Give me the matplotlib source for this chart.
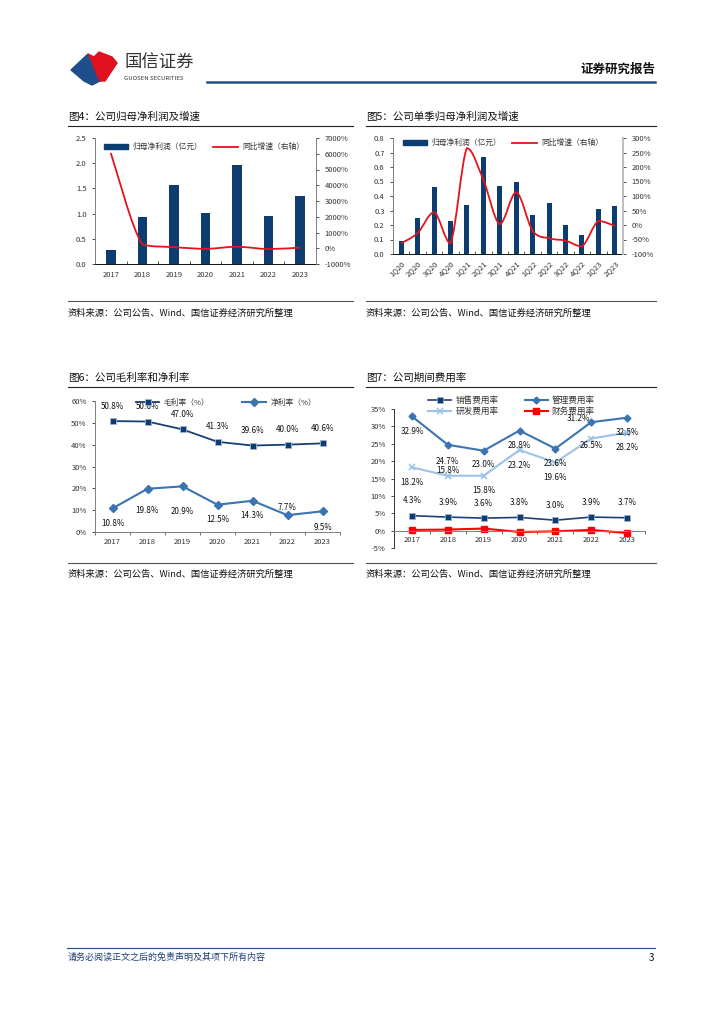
import numpy as np
import matplotlib
matplotlib.use('Agg')
import matplotlib.pyplot as plt
from matplotlib.lines import Line2D
from matplotlib.patches import Polygon, Patch, PathPatch
from matplotlib.path import Path
from matplotlib.ticker import FuncFormatter, FixedLocator

plt.rcParams['font.family'] = ['Noto Sans CJK SC', 'DejaVu Sans']
plt.rcParams['axes.unicode_minus'] = False

W, H = 724, 1024

# 图4 data
years = ['2017', '2018', '2019', '2020', '2021', '2022', '2023']
net_profit = [0.28, 0.93, 1.57, 1.02, 1.97, 0.96, 1.35]
net_profit_yoy = [6050, 232, 69, -35, 93, -51, 41]

# 图5 data
quarters = ['1Q20', '2Q20', '3Q20', '4Q20', '1Q21', '2Q21', '3Q21', '4Q21',
            '1Q22', '2Q22', '3Q22', '4Q22', '1Q23', '2Q23']
q_profit = [0.09, 0.25, 0.46, 0.23, 0.34, 0.67, 0.47, 0.50, 0.27, 0.35, 0.20, 0.13, 0.31, 0.33]
q_yoy = [-63, -28, 44, -63, 265, 156, 3, 113, -20, -46, -54, -74, 14, -3]

# 图6 data
gross_margin = [50.8, 50.6, 47.0, 41.3, 39.6, 40.0, 40.6]
net_margin = [10.8, 19.8, 20.9, 12.5, 14.3, 7.7, 9.5]

# 图7 data
sales_rate = [4.3, 3.9, 3.6, 3.8, 3.0, 3.9, 3.7]
admin_rate = [32.9, 24.7, 23.0, 28.8, 23.6, 31.2, 32.5]
rd_rate = [18.2, 15.8, 15.8, 23.2, 19.6, 26.5, 28.2]
fin_rate = [0.2, 0.3, 0.6, -0.4, -0.2, 0.2, -0.7]

NAVY = '#0D3D70'
RED = '#E3141B'
MID = '#3A74B2'
LIGHT = '#9DC3E6'
TXT = '#333333'

fig = plt.figure(figsize=(W / 100, H / 100), dpi=100)


def px_ax(x0, y0, x1, y1):
    return fig.add_axes([x0 / W, 1 - y1 / H, (x1 - x0) / W, (y1 - y0) / H])


def ftext(x, y, s, **kw):
    fig.text(x / W, 1 - y / H, s, **kw)


def hline(x0, x1, y, color='#222222', lw=0.8):
    fig.add_artist(Line2D([x0 / W, x1 / W], [1 - y / H, 1 - y / H],
                          color=color, lw=lw, transform=fig.transFigure))


def smooth_path(xs, ys):
    # catmull-rom -> cubic bezier, control points kept inside each segment's range
    p = np.column_stack([xs, ys]).astype(float)
    n = len(p)
    verts = [p[0]]
    codes = [Path.MOVETO]
    for i in range(n - 1):
        p0 = p[i - 1] if i > 0 else p[i]
        p3 = p[i + 2] if i + 2 < n else p[i + 1]
        c1 = p[i] + (p[i + 1] - p0) / 6.0
        c2 = p[i + 1] - (p3 - p[i]) / 6.0
        lo, hi = min(p[i][1], p[i + 1][1]), max(p[i][1], p[i + 1][1])
        c1[1] = np.clip(c1[1], lo, hi)
        c2[1] = np.clip(c2[1], lo, hi)
        verts += [c1, c2, p[i + 1]]
        codes += [Path.CURVE4] * 3
    return Path(verts, codes)


def style_axis(ax, fs=5.5):
    ax.tick_params(labelsize=fs, colors=TXT, length=2.5, width=0.6)
    for s in ax.spines.values():
        s.set_color('#7F7F7F')
        s.set_linewidth(0.7)


# ---------------- header / footer ----------------
fig.add_artist(Polygon([(x / W, 1 - y / H) for x, y in
                        [(71, 70), (88, 54), (92, 61), (95, 70), (100, 81), (92, 85), (84, 81)]],
                       closed=True, color='#1D4F8C', transform=fig.transFigure))
fig.add_artist(Polygon([(x / W, 1 - y / H) for x, y in
                        [(88, 54), (94, 57), (99, 52), (112, 57), (117, 63), (105, 81), (100, 81), (95, 70), (92, 61)]],
                       closed=True, color='#E0101E', transform=fig.transFigure))
ftext(124, 63, '国信证券', fontsize=12.5, color='#333333', va='center', ha='left')
ftext(124, 78, 'GUOSEN SECURITIES', fontsize=4.3, color='#333333', va='center', ha='left')
ftext(655, 69, '证券研究报告', fontsize=9, fontweight='bold', color='#111111', va='center', ha='right')
hline(207, 655, 82, color='#1F4E8C', lw=1.8)

hline(67, 655, 948, color='#1F4E8C', lw=0.8)
ftext(68, 957, '请务必阅读正文之后的免责声明及其项下所有内容', fontsize=6.5, color='#1F3F77', va='center')
ftext(654, 958, '3', fontsize=7, color='#111111', va='center', ha='right')


def title_block(x0, x1, ty, ly, sy, sly, title):
    ftext(x0, ty, title, fontsize=7.6, color='#111111', va='center')
    hline(x0, x1, ly, color='#222222', lw=0.8)
    hline(x0, x1, sly, color='#555555', lw=0.8)
    ftext(x0, sy, '资料来源：公司公告、Wind、国信证券经济研究所整理', fontsize=6.7, color='#111111', va='center')


title_block(68, 353, 117, 126, 313, 301, '图4：公司归母净利润及增速')
title_block(366, 656, 117, 126, 313, 301, '图5：公司单季归母净利润及增速')
title_block(68, 353, 378, 387, 574, 563, '图6：公司毛利率和净利率')
title_block(366, 656, 378, 387, 574, 563, '图7：公司期间费用率')

# ---------------- 图4 ----------------
ax = px_ax(95, 138, 316, 264)
x = np.arange(len(years))
ax.bar(x, net_profit, width=0.3, color=NAVY)
ax.set_xlim(-0.5, len(years) - 0.5)
ax.set_ylim(0, 2.5)
ax.set_yticks(np.arange(0, 2.51, 0.5))
ax.yaxis.set_major_formatter(FuncFormatter(lambda v, p: '%.1f' % v))
ax.set_xticks(x)
ax.set_xticklabels(years)
ax.xaxis.set_minor_locator(FixedLocator(np.arange(-0.5, len(years), 1)))
style_axis(ax)
ax.tick_params(axis='x', which='major', length=0, pad=5)
ax.tick_params(axis='x', which='minor', direction='in', length=2.5, width=0.6, color='#333333')
ax.spines['top'].set_visible(False)
ax.spines['right'].set_visible(False)
ax.spines['bottom'].set_color('#111111')
ax2 = ax.twinx()
ax2.set_ylim(-1000, 7000)
ax2.set_yticks(np.arange(-1000, 7001, 1000))
ax2.yaxis.set_major_formatter(FuncFormatter(lambda v, p: '%d%%' % v))
ax2.add_patch(PathPatch(smooth_path(x, net_profit_yoy), fill=False, edgecolor=RED, lw=1.3))
style_axis(ax2)
ax2.spines['top'].set_visible(False)
ax2.spines['left'].set_visible(False)
ax2.spines['bottom'].set_visible(False)
ax2.legend([Patch(color=NAVY), Line2D([], [], color=RED, lw=1.3)],
           ['归母净利润（亿元）', '同比增速（右轴）'], ncol=2, frameon=False,
           fontsize=5.6, loc='upper left', bbox_to_anchor=(104 / W, 1 - 143 / H),
           bbox_transform=fig.transFigure, handlelength=3.1, handleheight=0.6,
           handletextpad=0.6, columnspacing=1.4, borderpad=0, borderaxespad=0,
           labelcolor=TXT)

# ---------------- 图5 ----------------
ax = px_ax(393, 138, 623, 254)
x = np.arange(len(quarters))
ax.bar(x, q_profit, width=0.3, color=NAVY)
ax.set_xlim(-0.5, len(quarters) - 0.5)
ax.set_ylim(0, 0.8)
ax.set_yticks(np.arange(0, 0.81, 0.1))
ax.yaxis.set_major_formatter(FuncFormatter(lambda v, p: '%.1f' % v))
ax.set_xticks(x)
ax.set_xticklabels(quarters, rotation=45, ha='right', rotation_mode='anchor')
ax.xaxis.set_minor_locator(FixedLocator(np.arange(-0.5, len(quarters), 1)))
style_axis(ax)
ax.tick_params(axis='x', which='major', length=0, pad=4)
ax.tick_params(axis='x', which='minor', direction='in', length=2.5, width=0.6, color='#333333')
ax.spines['top'].set_visible(False)
ax.spines['right'].set_visible(False)
ax.spines['bottom'].set_color('#111111')
ax2 = ax.twinx()
ax2.set_ylim(-100, 300)
ax2.set_yticks(np.arange(-100, 301, 50))
ax2.yaxis.set_major_formatter(FuncFormatter(lambda v, p: '%d%%' % v))
ax2.add_patch(PathPatch(smooth_path(x, q_yoy), fill=False, edgecolor=RED, lw=1.3))
style_axis(ax2)
ax2.spines['top'].set_visible(False)
ax2.spines['left'].set_visible(False)
ax2.spines['bottom'].set_visible(False)
ax2.spines['right'].set_color('#BFBFBF')
ax2.spines['right'].set_linewidth(1.5)
ax2.legend([Patch(color=NAVY), Line2D([], [], color=RED, lw=1.3)],
           ['归母净利润（亿元）', '同比增速（右轴）'], ncol=2, frameon=False,
           fontsize=5.6, loc='upper left', bbox_to_anchor=(403 / W, 1 - 139 / H),
           bbox_transform=fig.transFigure, handlelength=3.1, handleheight=0.6,
           handletextpad=0.6, columnspacing=1.4, borderpad=0, borderaxespad=0,
           labelcolor=TXT)

# ---------------- 图6 ----------------
ax = px_ax(95, 401, 340, 532)
x = np.arange(len(years))
ax.plot(x, gross_margin, color='#1B3F73', lw=1.3, marker='s', ms=5,
        mfc=NAVY, mec='#9DB4D6', mew=0.6, label='毛利率（%）')
ax.plot(x, net_margin, color=MID, lw=1.5, marker='D', ms=3.8,
        mfc=MID, mec=MID, label='净利率（%）')
ax.set_xlim(-0.5, len(years) - 0.5)
ax.set_ylim(0, 60)
ax.set_yticks(np.arange(0, 61, 10))
ax.yaxis.set_major_formatter(FuncFormatter(lambda v, p: '%d%%' % v))
ax.set_xticks(x)
ax.set_xticklabels(years)
ax.xaxis.set_minor_locator(FixedLocator(np.arange(-0.5, len(years), 1)))
style_axis(ax)
ax.tick_params(axis='x', which='major', length=0, pad=4)
ax.tick_params(axis='x', which='minor', direction='out', length=2.5, width=0.6, color='#555555')
ax.spines['top'].set_visible(False)
ax.spines['right'].set_visible(False)
gm_off = [15, 15, 15, 15, 15, 15, 15]
nm_off = [-15, -22, -25, -15, -15, 8, -16]
for i in range(len(years)):
    ax.annotate('%.1f%%' % gross_margin[i], (x[i], gross_margin[i]), xytext=(0, gm_off[i] * 0.72),
                textcoords='offset points', ha='center', va='center', fontsize=5.8, color='#111111')
    ax.annotate('%.1f%%' % net_margin[i], (x[i], net_margin[i]), xytext=(0, nm_off[i] * 0.72),
                textcoords='offset points', ha='center', va='center', fontsize=5.8, color='#111111')
ax.legend(ncol=2, frameon=False, fontsize=5.6, loc='upper left',
          bbox_to_anchor=(136 / W, 1 - 399 / H), bbox_transform=fig.transFigure,
          handlelength=3.0, handletextpad=0.6, columnspacing=4.2, borderpad=0,
          borderaxespad=0, labelcolor=TXT)

# ---------------- 图7 ----------------
ax = px_ax(394, 409, 645, 548)
x = np.arange(len(years))
l1, = ax.plot(x, sales_rate, color='#1F3F77', lw=1.2, marker='s', ms=4.5,
              mfc=NAVY, mec='#9DB4D6', mew=0.5)
l2, = ax.plot(x, admin_rate, color=MID, lw=1.5, marker='D', ms=3.5, mfc=MID, mec=MID)
l3, = ax.plot(x, rd_rate, color=LIGHT, lw=1.5, marker='x', ms=4, mew=1.2, mec=LIGHT)
l4, = ax.plot(x, fin_rate, color='#FF0000', lw=1.5, marker='s', ms=4.5, mfc='#FF0000', mec='#FF0000')
ax.set_xlim(-0.5, len(years) - 0.5)
ax.set_ylim(-5, 35)
ax.set_yticks(np.arange(-5, 36, 5))
ax.yaxis.set_major_formatter(FuncFormatter(lambda v, p: '%d%%' % v))
ax.set_xticks(x)
ax.set_xticklabels(years)
ax.xaxis.set_minor_locator(FixedLocator(np.arange(-0.5, len(years), 1)))
style_axis(ax)
ax.spines['bottom'].set_position(('data', 0))
ax.tick_params(axis='x', which='major', length=0, pad=4)
ax.tick_params(axis='x', which='minor', direction='out', length=2.5, width=0.6, color='#555555')
ax.spines['top'].set_visible(False)
ax.spines['right'].set_visible(False)
ax.spines['left'].set_color('#333333')
sales_off = [(0, 15)] * 7
admin_off = [(0, -15), (0, -17), (0, -14), (0, -15), (0, -15), (-13, 4), (0, -15)]
rd_off = [(0, -15), (0, 5), (0, -15), (0, -15), (0, -15), (0, -7), (0, -15)]
for i in range(len(years)):
    for vals, offs in ((sales_rate, sales_off), (admin_rate, admin_off), (rd_rate, rd_off)):
        ax.annotate('%.1f%%' % vals[i], (x[i], vals[i]),
                    xytext=(offs[i][0] * 0.72, offs[i][1] * 0.72),
                    textcoords='offset points', ha='center', va='center',
                    fontsize=5.8, color='#111111')
ax.legend([l1, l3, l2, l4], ['销售费用率', '研发费用率', '管理费用率', '财务费用率'],
          ncol=2, frameon=False, fontsize=6.2, loc='upper left',
          bbox_to_anchor=(428 / W, 1 - 396 / H), bbox_transform=fig.transFigure,
          handlelength=2.7, handletextpad=0.5, columnspacing=3.0, borderpad=0,
          borderaxespad=0, labelspacing=0.2, labelcolor=TXT)

fig.savefig('out.png', dpi=100, facecolor='white')
